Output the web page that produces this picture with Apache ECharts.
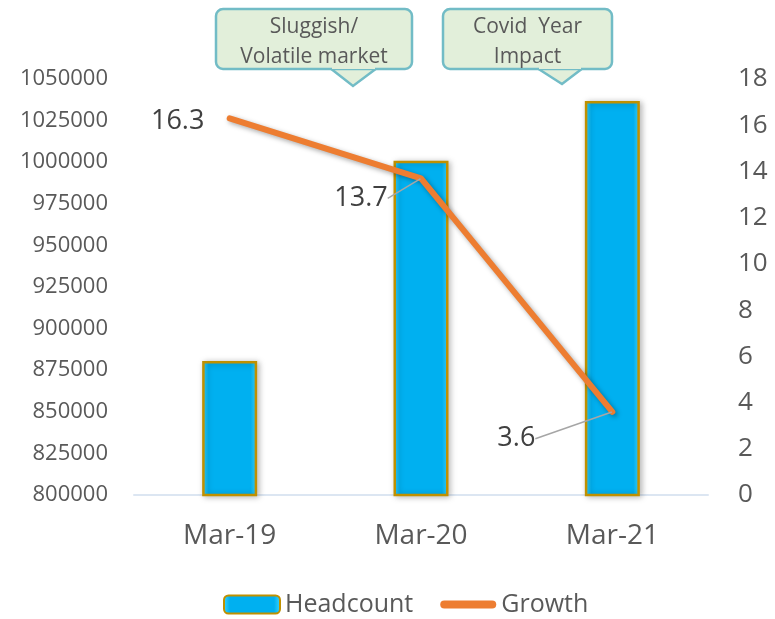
<!DOCTYPE html>
<html>
<head>
<meta charset="utf-8">
<script src="https://cdn.jsdelivr.net/npm/echarts@6/dist/echarts.min.js"></script>
<style>
html, body { margin: 0; padding: 0; background: #fff; }
#chart { width: 775px; height: 619px; }
</style>
</head>
<body>
<div id="chart"></div>
<script>
// data
const categories = ['Mar-19', 'Mar-20', 'Mar-21'];
const headcount = [880500, 1000800, 1036800];
const growth = [16.3, 13.7, 3.6];
const leftTicks = { min: 800000, max: 1050000, interval: 25000 };
const rightTicks = { min: 0, max: 18, interval: 2 };

// where each growth label sits relative to its point
const labelShift = [
    { dx: -52, dy: 3, line: false },
    { dx: -60, dy: 20, line: true },
    { dx: -96, dy: 27, line: true }
];

const font = '"Open Sans", "Noto Sans", sans-serif';
const chart = echarts.init(document.getElementById('chart'));

// speech bubble helper (decoration only)
function bubble(x, y, w, h, tailL, tailR, tipX, tipY, text) {
    return {
        type: 'group',
        children: [
            {
                type: 'polygon',
                shape: { points: [[tailL, y + h - 1], [tipX, tipY], [tailR, y + h - 1]] },
                style: { fill: '#e2efda', stroke: '#72bcc6', lineWidth: 2.5 }
            },
            {
                type: 'rect',
                shape: { x: x, y: y, width: w, height: h, r: 7 },
                style: { fill: '#e2efda', stroke: '#72bcc6', lineWidth: 2.5 }
            },
            {
                type: 'rect',
                shape: { x: tailL + 2, y: y + h - 3, width: tailR - tailL - 4, height: 3 },
                style: { fill: '#e2efda' }
            },
            {
                type: 'text',
                x: x + w / 2,
                y: y + h / 2 + 3,
                style: {
                    text: text,
                    fill: '#595959',
                    font: '21px ' + font,
                    align: 'center',
                    verticalAlign: 'middle',
                    lineHeight: 30
                }
            }
        ]
    };
}

chart.setOption({
    animation: false,
    textStyle: { fontFamily: font },
    grid: { left: 134, right: 67, top: 79, bottom: 124, containLabel: false },
    legend: {
        bottom: -3,
        left: 218,
        itemWidth: 56,
        itemHeight: 18,
        itemGap: 27,
        textStyle: { fontSize: 25, color: '#595959', fontFamily: font },
        data: [
            { name: 'Headcount' },
            { name: 'Growth', icon: 'path://M4,0 L51,0 A4,4 0 0 1 51,8 L4,8 A4,4 0 0 1 4,0 Z', itemStyle: { color: '#ed7d31' } }
        ]
    },
    xAxis: {
        type: 'category',
        data: categories,
        axisLine: { show: true, lineStyle: { color: '#dce6f2', width: 2 } },
        axisTick: { show: false },
        axisLabel: { fontSize: 28, color: '#595959', margin: 27 }
    },
    yAxis: [
        {
            type: 'value',
            min: leftTicks.min,
            max: leftTicks.max,
            interval: leftTicks.interval,
            axisLine: { show: false },
            axisTick: { show: false },
            splitLine: { show: false },
            axisLabel: { fontSize: 22, color: '#595959', margin: 26, formatter: v => String(v) }
        },
        {
            type: 'value',
            min: rightTicks.min,
            max: rightTicks.max,
            interval: rightTicks.interval,
            axisLine: { show: false },
            axisTick: { show: false },
            splitLine: { show: false },
            axisLabel: { fontSize: 26, color: '#595959', margin: 30 }
        }
    ],
    series: [
        {
            name: 'Headcount',
            type: 'bar',
            data: headcount,
            barWidth: 55,
            itemStyle: {
                color: {
                    type: 'linear', x: 0, y: 0, x2: 1, y2: 0,
                    colorStops: [
                        { offset: 0, color: '#3fd8ff' },
                        { offset: 0.12, color: '#00b0f0' },
                        { offset: 0.88, color: '#00b0f0' },
                        { offset: 1, color: '#3fd8ff' }
                    ]
                },
                borderColor: '#bf9000',
                borderWidth: 2.5,
                shadowColor: 'rgba(0,0,0,0.25)',
                shadowBlur: 6,
                shadowOffsetX: 2,
                shadowOffsetY: 1
            }
        },
        {
            name: 'Growth',
            type: 'line',
            yAxisIndex: 1,
            data: growth.map((v, i) => ({
                value: v,
                labelLine: { show: labelShift[i].line }
            })),
            symbol: 'circle',
            symbolSize: 1,
            showSymbol: true,
            itemStyle: { color: '#ed7d31' },
            lineStyle: {
                color: '#ed7d31',
                width: 6,
                cap: 'round',
                join: 'round',
                shadowColor: 'rgba(0,0,0,0.35)',
                shadowBlur: 5,
                shadowOffsetX: 2,
                shadowOffsetY: 2
            },
            label: {
                show: true,
                position: 'inside',
                fontSize: 27,
                color: '#404040',
                fontFamily: font
            },
            labelLine: {
                show: true,
                lineStyle: { color: '#a6a6a6', width: 1.5 }
            },
            labelLayout: function (params) {
                const s = labelShift[params.dataIndex];
                return { dx: s.dx, dy: s.dy };
            }
        }
    ],
    graphic: [
        bubble(216, 9, 196, 60, 330, 377, 353, 86, 'Sluggish/\nVolatile market'),
        bubble(443, 9, 169, 60, 537, 583, 562, 84, 'Covid  Year\nImpact')
    ]
});
</script>
</body>
</html>
